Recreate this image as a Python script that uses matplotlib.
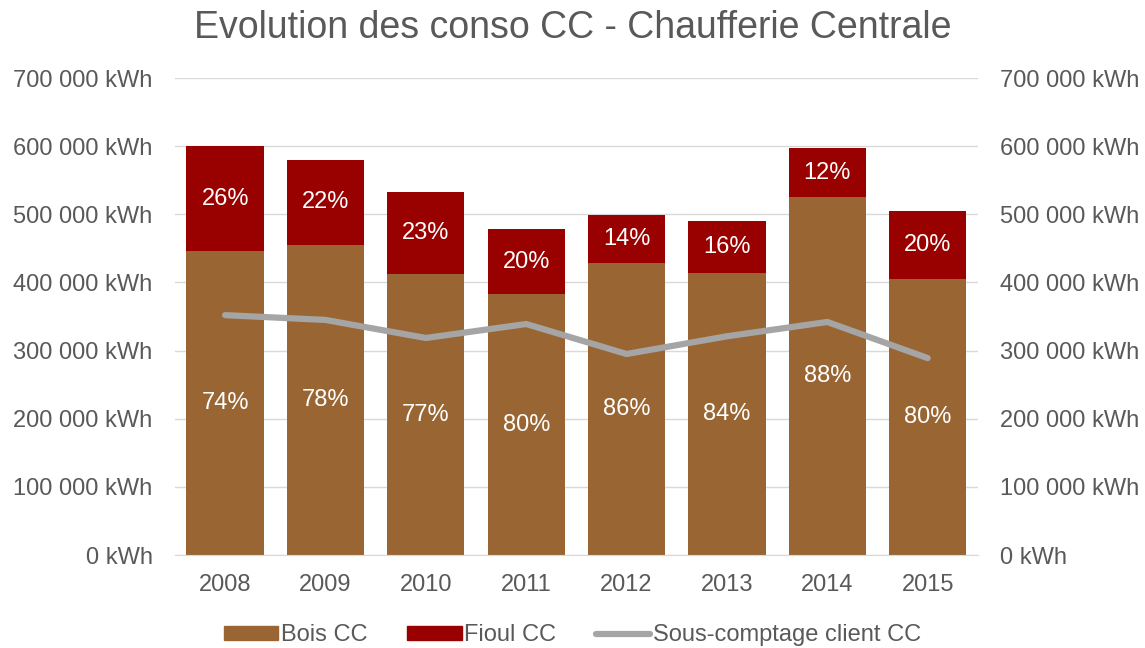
import matplotlib.pyplot as plt
from matplotlib.ticker import FuncFormatter
from matplotlib.lines import Line2D
from matplotlib.patches import Patch

plt.rcParams['font.family'] = ['Liberation Sans', 'DejaVu Sans']

years = ['2008', '2009', '2010', '2011', '2012', '2013', '2014', '2015']
bois = [446000, 455000, 412000, 383000, 428500, 414000, 525000, 405000]
fioul = [154000, 125000, 120700, 95400, 70500, 76300, 72000, 100000]
sous_comptage = [352000, 345000, 318500, 339000, 295000, 321000, 342000, 289000]

c_bois = '#996633'
c_fioul = '#990000'
c_line = '#A5A5A5'
c_text = '#595959'

fig = plt.figure(figsize=(11.45, 6.48), dpi=100)
ax = fig.add_axes([0.1528, 0.1435, 0.7012, 0.7361])

x = list(range(len(years)))
ax.bar(x, bois, width=0.77, color=c_bois, zorder=2)
ax.bar(x, fioul, width=0.77, bottom=bois, color=c_fioul, zorder=2)
ax.plot(x, sous_comptage, color=c_line, lw=4.5, solid_capstyle='round', zorder=3)

for i in range(len(years)):
    total = bois[i] + fioul[i]
    pb = round(bois[i] / total * 100)
    pf = 100 - pb
    ax.text(i, bois[i] / 2, f'{pb}%', ha='center', va='center', color='white', fontsize=17, zorder=4)
    ax.text(i, bois[i] + fioul[i] / 2, f'{pf}%', ha='center', va='center', color='white', fontsize=17, zorder=4)

fmt = FuncFormatter(lambda v, p: f'{int(v):,} kWh'.replace(',', ' '))
ax.set_ylim(0, 700000)
ax.set_xlim(-0.5, len(years) - 0.5)
ax.set_yticks(range(0, 700001, 100000))
ax.yaxis.set_major_formatter(fmt)
ax.set_xticks(x)
ax.set_xticklabels(years)
ax.grid(axis='y', color='#D9D9D9', lw=1, zorder=0)
for s in ['top', 'left', 'right']:
    ax.spines[s].set_visible(False)
ax.spines['bottom'].set_color('#D9D9D9')
ax.tick_params(axis='both', length=0, labelsize=17, colors=c_text)
ax.tick_params(axis='y', pad=16)
ax.tick_params(axis='x', pad=14)

ax2 = ax.twinx()
ax2.set_ylim(0, 700000)
ax2.set_yticks(range(0, 700001, 100000))
ax2.yaxis.set_major_formatter(fmt)
for s in ax2.spines.values():
    s.set_visible(False)
ax2.tick_params(axis='y', length=0, labelsize=17, colors=c_text, pad=16)

fig.suptitle('Evolution des conso CC - Chaufferie Centrale', fontsize=27, color=c_text, y=0.985)

handles = [Patch(color=c_bois), Patch(color=c_fioul), Line2D([], [], color=c_line, lw=4.5, solid_capstyle='round')]
fig.legend(handles, ['Bois CC', 'Fioul CC', 'Sous-comptage client CC'], loc='lower center',
           bbox_to_anchor=(0.5, -0.03), ncol=3, frameon=False, fontsize=17, labelcolor=c_text,
           handlelength=2.3, handleheight=0.5, handletextpad=0.1, columnspacing=1.7)

fig.savefig('out.png', dpi=100)
